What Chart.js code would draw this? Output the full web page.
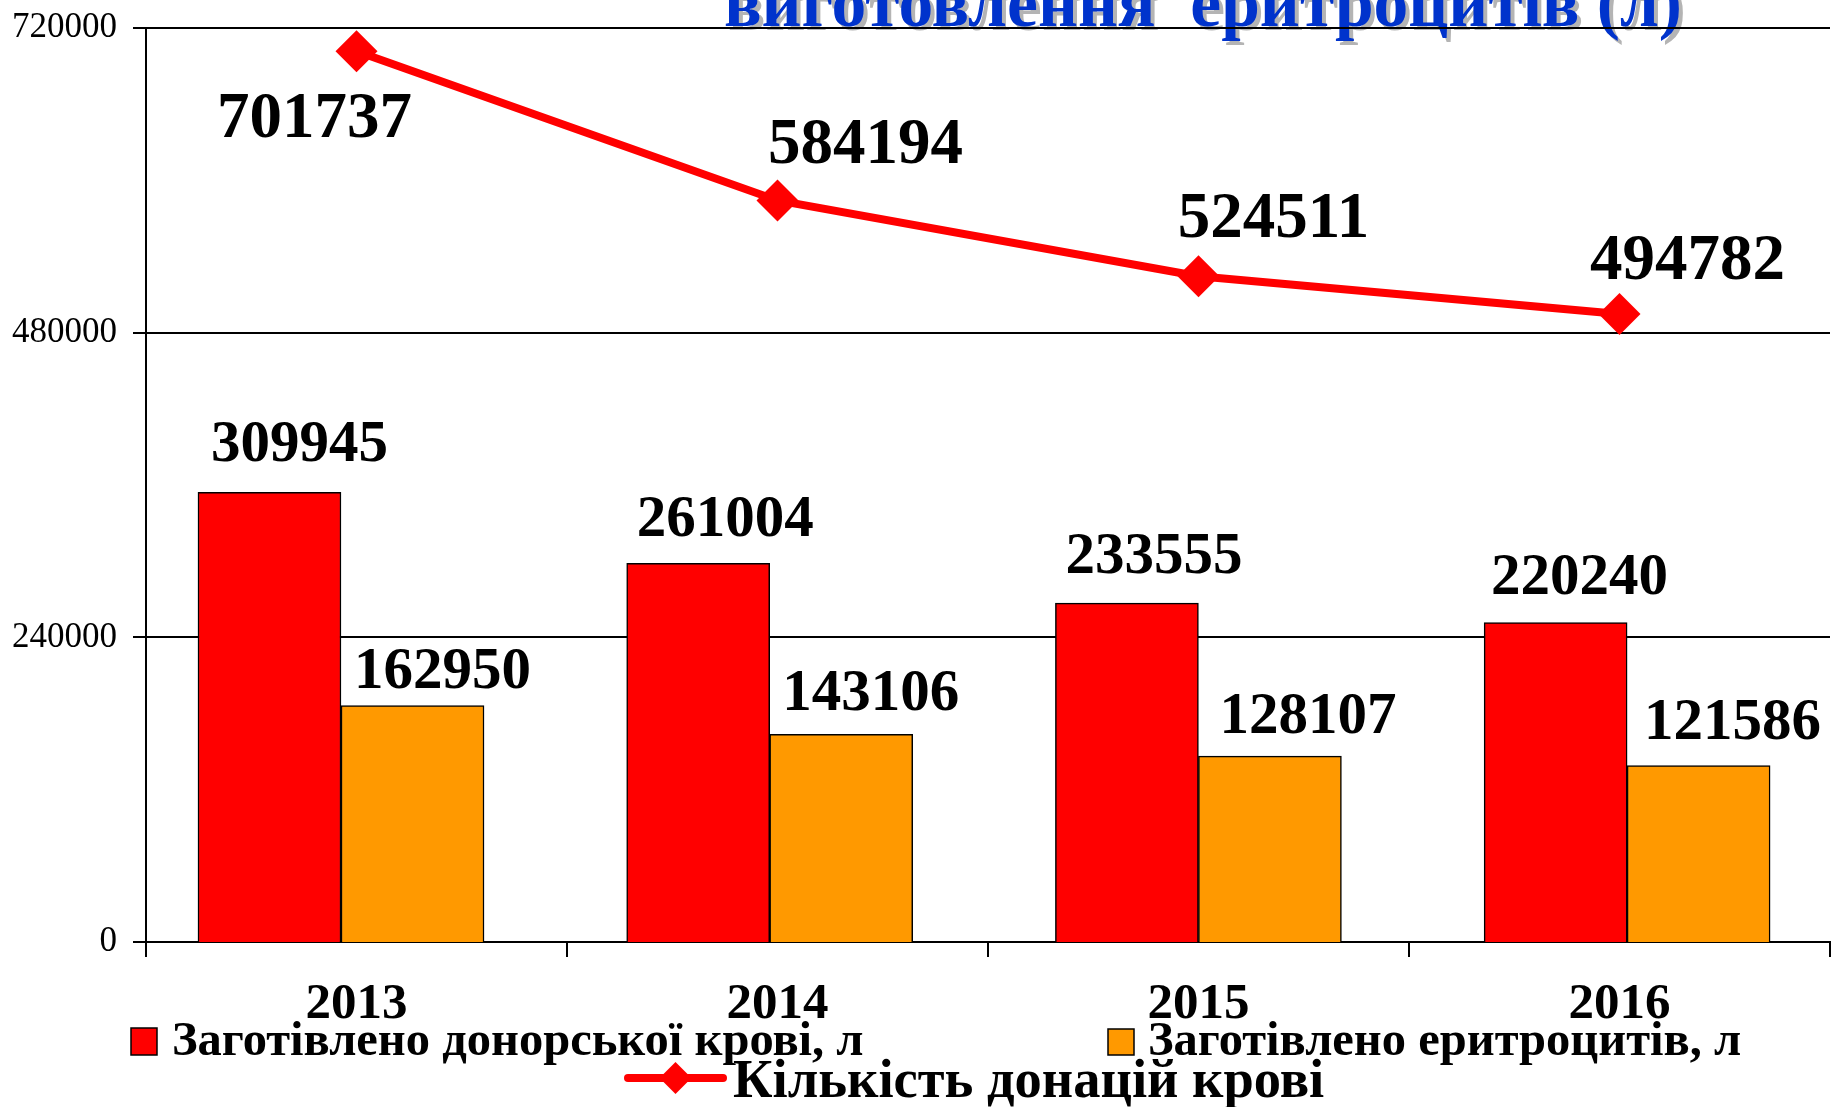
<!DOCTYPE html>
<html>
<head>
<meta charset="utf-8">
<script src="https://cdn.jsdelivr.net/npm/chart.js@4.4.0/dist/chart.umd.min.js"></script>
<style>
html,body{margin:0;padding:0;background:#fff;overflow:hidden;}
canvas{display:block;}
</style>
</head>
<body>
<canvas id="c" width="1831" height="1107"></canvas>
<script>
// ---- data ----
const years = ['2013', '2014', '2015', '2016'];
const donorBlood = [309945, 261004, 233555, 220240];
const erythrocytes = [162950, 143106, 128107, 121586];
const donations = [701737, 584194, 524511, 494782];
const yTicks = [0, 240000, 480000, 720000];
const seriesNames = ['Заготівлено донорської крові, л', 'Заготівлено еритроцитів, л', 'Кількість донацій крові'];
const titleText = 'виготовлення  еритроцитів (л)';

const SERIF = '"Liberation Serif", "Times New Roman", serif';

// title (partially cut off at top, as in the reference)
const titlePlugin = {
  id: 'cutTitle',
  beforeDraw(chart, args, opts) {
    const ctx = chart.ctx;
    ctx.save();
    ctx.font = 'bold ' + opts.size + 'px ' + SERIF;
    ctx.textAlign = 'center';
    ctx.textBaseline = 'alphabetic';
    ctx.fillStyle = '#b4b4b4';
    ctx.fillText(opts.text, opts.x + 4, opts.y + 4);
    ctx.fillStyle = '#0033cc';
    ctx.fillText(opts.text, opts.x, opts.y);
    ctx.restore();
  }
};

// value labels
const labelPlugin = {
  id: 'valueLabels',
  afterDatasetsDraw(chart, args, opts) {
    const ctx = chart.ctx;
    ctx.save();
    ctx.fillStyle = '#000';
    ctx.textAlign = 'center';
    ctx.textBaseline = 'alphabetic';
    chart.data.datasets.forEach((ds, di) => {
      const meta = chart.getDatasetMeta(di);
      meta.data.forEach((el, i) => {
        const raw = ds.data[i];
        const v = (typeof raw === 'object') ? raw.y : raw;
        if (ds.type === 'line') {
          ctx.font = 'bold ' + opts.lineSize + 'px ' + SERIF;
          const off = opts.lineOffsets[i];
          ctx.fillText(String(v), el.x + off[0], el.y + off[1]);
        } else {
          ctx.font = 'bold ' + opts.barSize + 'px ' + SERIF;
          const off = opts.barOffsets[di][i];
          ctx.fillText(String(v), el.x + off[0], el.y - off[1]);
        }
      });
    });
    ctx.restore();
  }
};

// custom legend (two items on first row, line item centred on second row)
const legendPlugin = {
  id: 'customLegend',
  afterDraw(chart, args, opts) {
    const ctx = chart.ctx;
    const ds = chart.data.datasets;
    ctx.save();
    ctx.textAlign = 'left';
    ctx.textBaseline = 'alphabetic';
    [0, 1].forEach(k => {
      const it = opts.items[k];
      ctx.fillStyle = ds[k].backgroundColor;
      ctx.fillRect(it.bx, it.by, it.bw, it.bh);
      ctx.lineWidth = 1.5;
      ctx.strokeStyle = '#000';
      ctx.strokeRect(it.bx, it.by, it.bw, it.bh);
      ctx.fillStyle = '#000';
      ctx.font = 'bold ' + opts.size1 + 'px ' + SERIF;
      ctx.fillText(ds[k].label, it.tx, it.ty);
    });
    const li = opts.items[2];
    ctx.strokeStyle = ds[2].borderColor;
    ctx.lineWidth = 8;
    ctx.lineCap = 'round';
    ctx.beginPath();
    ctx.moveTo(li.x0, li.y);
    ctx.lineTo(li.x1, li.y);
    ctx.stroke();
    const cx = (li.x0 + li.x1) / 2, r = li.r;
    ctx.fillStyle = ds[2].pointBackgroundColor;
    ctx.beginPath();
    ctx.moveTo(cx - r, li.y);
    ctx.lineTo(cx, li.y - r);
    ctx.lineTo(cx + r, li.y);
    ctx.lineTo(cx, li.y + r);
    ctx.closePath();
    ctx.fill();
    ctx.fillStyle = '#000';
    ctx.font = 'bold ' + opts.size2 + 'px ' + SERIF;
    ctx.fillText(ds[2].label, li.tx, li.ty);
    ctx.restore();
  }
};

const barTicks = (s) => { s.ticks = years.map((y, i) => ({ value: i })); };

const ctx = document.getElementById('c').getContext('2d');
new Chart(ctx, {
  type: 'bar',
  data: {
    labels: years,
    datasets: [
      {
        label: seriesNames[0],
        data: years.map((y, i) => ({ x: i, y: donorBlood[i] })),
        xAxisID: 'xRed',
        yAxisID: 'y2',
        backgroundColor: '#ff0000',
        borderColor: '#000000',
        borderWidth: 1.5,
        grouped: false,
        barThickness: 143,
        order: 2
      },
      {
        label: seriesNames[1],
        data: years.map((y, i) => ({ x: i, y: erythrocytes[i] })),
        xAxisID: 'xOrange',
        yAxisID: 'y2',
        backgroundColor: '#ff9900',
        borderColor: '#000000',
        borderWidth: 1.5,
        grouped: false,
        barThickness: 143,
        order: 2
      },
      {
        type: 'line',
        label: seriesNames[2],
        data: donations,
        xAxisID: 'x',
        yAxisID: 'y',
        borderColor: '#ff0000',
        backgroundColor: '#ff0000',
        borderWidth: 8,
        pointStyle: 'rectRot',
        pointRadius: 21,
        pointBackgroundColor: '#ff0000',
        pointBorderColor: '#ff0000',
        pointBorderWidth: 0,
        tension: 0,
        fill: false,
        order: 0
      }
    ]
  },
  options: {
    responsive: false,
    animation: false,
    devicePixelRatio: 1,
    layout: { autoPadding: false, padding: { top: 28, right: 1, left: 0, bottom: 0 } },
    plugins: {
      legend: { display: false },
      tooltip: { enabled: false },
      cutTitle: { text: titleText, size: 69.5, x: 1203, y: 26 },
      valueLabels: {
        lineSize: 65,
        lineOffsets: [[-42, 86], [88, -37], [75, -39], [68, -35]],
        barSize: 59,
        barOffsets: [
          [[30, 31], [27, 27], [27, 30], [24, 28]],
          [[30, 18], [29.5, 24], [38, 23], [34, 27]]
        ]
      },
      customLegend: {
        size1: 48.5,
        size2: 54.5,
        items: [
          { bx: 131, by: 1028, bw: 26, bh: 27, tx: 172, ty: 1055 },
          { bx: 1108, by: 1029, bw: 26, bh: 26, tx: 1148, ty: 1055 },
          { x0: 628, x1: 723, y: 1078, r: 16, tx: 733, ty: 1097 }
        ]
      }
    },
    scales: {
      x: {
        type: 'category',
        position: 'bottom',
        offset: true,
        grid: { offset: true, drawOnChartArea: false, drawTicks: true, tickLength: 15, color: '#000', lineWidth: 2 },
        border: { display: true, color: '#000', width: 2 },
        ticks: {
          font: { family: SERIF, size: 51, weight: 'bold' },
          color: '#000',
          padding: 17,
          maxRotation: 0,
          autoSkip: false
        },
        afterFit: (s) => { s.height = 165; s.paddingLeft = 0; s.paddingRight = 0; }
      },
      xRed: {
        type: 'linear',
        display: false,
        offset: false,
        grid: { offset: false },
        min: -0.288,
        max: 3.640,
        afterBuildTicks: barTicks
      },
      xOrange: {
        type: 'linear',
        display: false,
        offset: false,
        grid: { offset: false },
        min: -0.6217,
        max: 3.3065,
        afterBuildTicks: barTicks
      },
      y: {
        type: 'linear',
        position: 'left',
        min: 0,
        max: 720000,
        afterBuildTicks: (s) => { s.ticks = yTicks.map(v => ({ value: v })); },
        ticks: {
          font: { family: SERIF, size: 35 },
          color: '#000',
          padding: 16,
          callback: (v) => String(v)
        },
        grid: { color: '#000', lineWidth: 2, tickLength: 13, drawTicks: true },
        border: { display: true, color: '#000', width: 2 },
        afterFit: (s) => { s.width = 146; s.paddingTop = 0; s.paddingBottom = 0; }
      },
      y2: {
        type: 'linear',
        display: false,
        position: 'right',
        min: 0,
        max: 630000
      }
    }
  },
  plugins: [titlePlugin, labelPlugin, legendPlugin]
});
</script>
</body>
</html>
